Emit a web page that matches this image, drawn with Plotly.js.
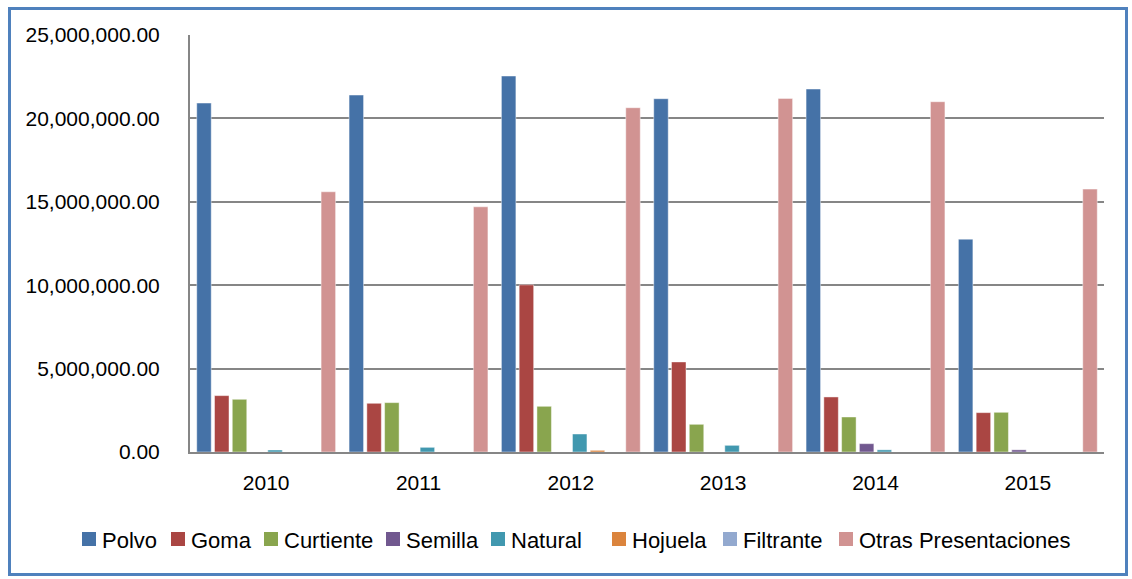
<!DOCTYPE html>
<html>
<head>
<meta charset="utf-8">
<script src="https://cdn.plot.ly/plotly-3.0.1.min.js"></script>
<style>
  html, body { margin: 0; padding: 0; background: #ffffff; }
  #wrap { position: relative; width: 1132px; height: 579px; }
  #chart { position: absolute; left: 0; top: 0; width: 1132px; height: 579px; }
  #frame { position: absolute; left: 8px; top: 7px; width: 1114px; height: 563px;
           border: 3px solid #4F81BD; pointer-events: none; }
</style>
</head>
<body>
<div id="wrap">
  <div id="chart"></div>
  <div id="frame"></div>
</div>
<script>
// Categories (years)
const years = ['2010', '2011', '2012', '2013', '2014', '2015'];

// Series values
const polvo     = [20920000, 21400000, 22540000, 21180000, 21760000, 12760000];
const goma      = [3380000, 2920000, 10020000, 5400000, 3300000, 2360000];
const curtiente = [3160000, 2960000, 2740000, 1660000, 2100000, 2380000];
const semilla   = [0, 0, 0, 0, 500000, 130000];
const natural   = [120000, 280000, 1080000, 400000, 130000, 0];
const hojuela   = [0, 0, 100000, 0, 0, 0];
const filtrante = [0, 0, 0, 0, 0, 0];
const otras     = [15600000, 14700000, 20640000, 21200000, 21000000, 15760000];

// Series names and colours
const seriesNames = ['Polvo', 'Goma', 'Curtiente', 'Semilla', 'Natural', 'Hojuela', 'Filtrante', 'Otras Presentaciones'];
const seriesData = [polvo, goma, curtiente, semilla, natural, hojuela, filtrante, otras];
const seriesColors = ['#4572A7', '#AA4643', '#89A54E', '#71588F', '#4198AF', '#DB843D', '#93A9CF', '#D19392'];

// Layout geometry (pixels)
const W = 1132, H = 579;
const M = { l: 190, r: 28, t: 35, b: 127 };
const plotW = W - M.l - M.r, plotH = H - M.t - M.b;
const px2x = px => (px - M.l) / plotW;
const py2y = py => (H - M.b - py) / plotH;

// Legend entry left edges (pixels), one per series
const legendLeft = [82, 171, 264, 386, 491, 612, 723, 839];
const legendMidY = 539;

const traces = seriesNames.map((name, i) => ({
  type: 'bar',
  name: name,
  x: years,
  y: seriesData[i],
  marker: { color: seriesColors[i], line: { color: 'rgba(255,255,255,0.45)', width: 1 } },
  showlegend: false,
  hoverinfo: 'x+y+name'
}));

const tickFont = { family: '"Liberation Sans", Arial, sans-serif', size: 21, color: '#000000' };
const legFont = { family: '"Liberation Sans", Arial, sans-serif', size: 22, color: '#000000' };

const shapes = seriesNames.map((name, i) => ({
  type: 'rect', xref: 'paper', yref: 'paper',
  x0: px2x(legendLeft[i]), x1: px2x(legendLeft[i] + 14),
  y0: py2y(legendMidY + 7), y1: py2y(legendMidY - 7),
  fillcolor: seriesColors[i], line: { width: 0 }
}));

const annotations = seriesNames.map((name, i) => ({
  xref: 'paper', yref: 'paper',
  x: px2x(legendLeft[i] + 18), y: py2y(legendMidY + 1),
  xanchor: 'left', yanchor: 'middle',
  text: name, showarrow: false, font: legFont
}));

const layout = {
  width: W,
  height: H,
  margin: { l: M.l, r: M.r, t: M.t, b: M.b, pad: 0 },
  paper_bgcolor: '#ffffff',
  plot_bgcolor: '#ffffff',
  font: legFont,
  barmode: 'group',
  bargap: 0.067,
  bargroupgap: 0.184,
  showlegend: false,
  shapes: shapes,
  annotations: annotations,
  xaxis: {
    type: 'category',
    showgrid: false,
    showline: true,
    linecolor: '#868686',
    linewidth: 2,
    ticks: '',
    ticklabelstandoff: 11,
    tickfont: tickFont,
    zeroline: false
  },
  yaxis: {
    range: [0, 25000000],
    dtick: 5000000,
    tick0: 0,
    tickformat: ',.2f',
    showgrid: true,
    gridcolor: '#868686',
    gridwidth: 2,
    showline: true,
    linecolor: '#868686',
    linewidth: 2,
    ticks: '',
    ticklabelstandoff: 24,
    tickfont: tickFont,
    zeroline: false
  }
};

Plotly.newPlot('chart', traces, layout, { displayModeBar: false, staticPlot: true });
</script>
</body>
</html>
